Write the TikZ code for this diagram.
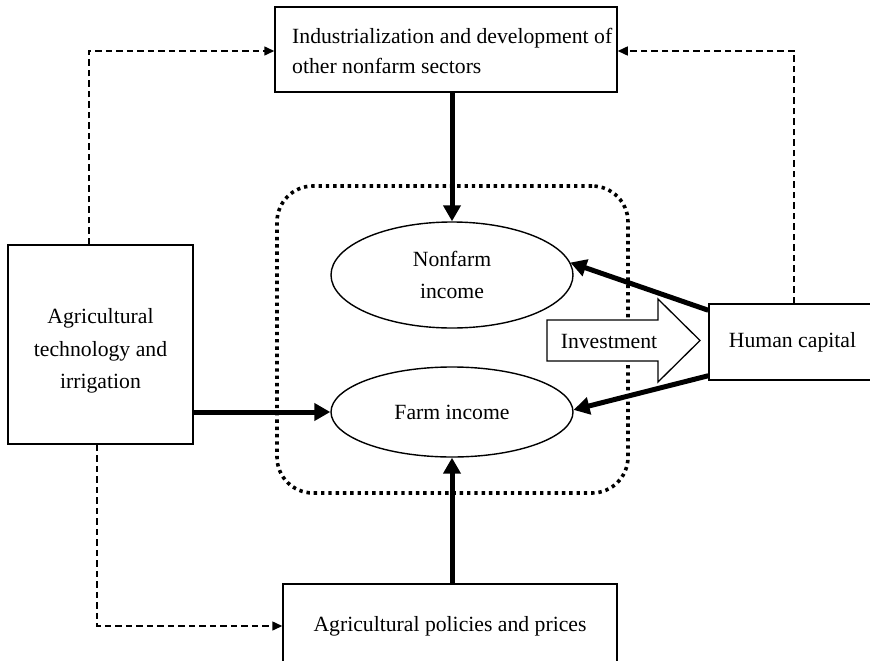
\documentclass[tikz,border=0pt]{standalone}
\usepackage{fontspec}
\setmainfont{Liberation Serif}
\usetikzlibrary{arrows.meta,shapes.geometric}

\newcommand\figfont{\fontsize{21.7}{32.5}\selectfont}

\begin{document}
\begin{tikzpicture}[x=1pt,y=-1pt,
  font=\figfont,
  box/.style={draw, line width=1.5pt, inner sep=0pt, align=center},
  oval/.style={draw, ellipse, line width=1.4pt, inner sep=0pt, align=center},
  zone/.style={draw, line width=3.6pt, dash pattern=on 3.4pt off 3.9pt, rounded corners=36pt},
  boldlink/.style={line width=5pt, -{Triangle[length=16pt,width=17pt]}},
  dashlink/.style={line width=1.5pt, dash pattern=on 6.5pt off 4pt, -{Triangle[length=10pt,width=9pt]}},
  bigarrow/.style={draw, fill=white, line width=1.3pt, line join=miter}
]
\useasboundingbox (0,0) rectangle (870,661);
\clip (0,0) rectangle (870,661);

% dotted frame around the two income nodes
\node[zone, minimum width=351pt, minimum height=307pt] (incomes) at (452.5,339.5) {};

% boxes
\node[box, minimum width=342pt, minimum height=85pt] (ind) at (446,49.5) {};
\node[anchor=west, align=left, inner sep=0pt, font=\fontsize{21.7}{30}\selectfont]
  (indtext) at (292,50.5) {Industrialization and development of\\other nonfarm sectors};
\node[box, minimum width=185pt, minimum height=199pt] (agr) at (100.5,344.5)
  {\raisebox{-5pt}[\height][\depth]{\begin{tabular}{@{}c@{}}Agricultural\\technology and\\irrigation\end{tabular}}};
\node[box, minimum width=167pt, minimum height=76pt] (hc) at (792.5,342) {Human capital};
\node[box, minimum width=334pt, minimum height=84pt] (pol) at (450,626)
  {Agricultural policies and prices};

% income ellipses
\node[oval, minimum width=242pt, minimum height=106pt] (nf) at (452,275) {Nonfarm\\income};
\node[oval, minimum width=242pt, minimum height=90pt] (fi) at (452,412) {Farm income};

% open block arrow for investment
\draw[bigarrow] (547,320) -- (658,320) -- (658,299) -- (700,340.5) -- (658,382)
  -- (658,361) -- (547,361) -- cycle;
\node[inner sep=0pt] (inv) at (609,341) {Investment};

% solid influences
\draw[boldlink] (ind.south -| nf.north) -- (nf.north);
\draw[boldlink] (pol.north -| fi.south) -- (fi.south);
\draw[boldlink] (agr.east |- fi.west) -- (fi.west);
\draw[boldlink] ([yshift=-7pt]hc.north west) -- (nf.6);
\draw[boldlink] ([yshift=5pt]hc.south west) -- (fi.1);

% dashed influences
\draw[dashlink] ([xshift=-11.5pt]agr.north) |- ([yshift=-1.5pt]ind.west);
\draw[dashlink] ([xshift=1.5pt]hc.north) |- ([yshift=-1.5pt]ind.east);
\draw[dashlink] ([xshift=-3.5pt]agr.south) |- (pol.west);
\end{tikzpicture}
\end{document}
